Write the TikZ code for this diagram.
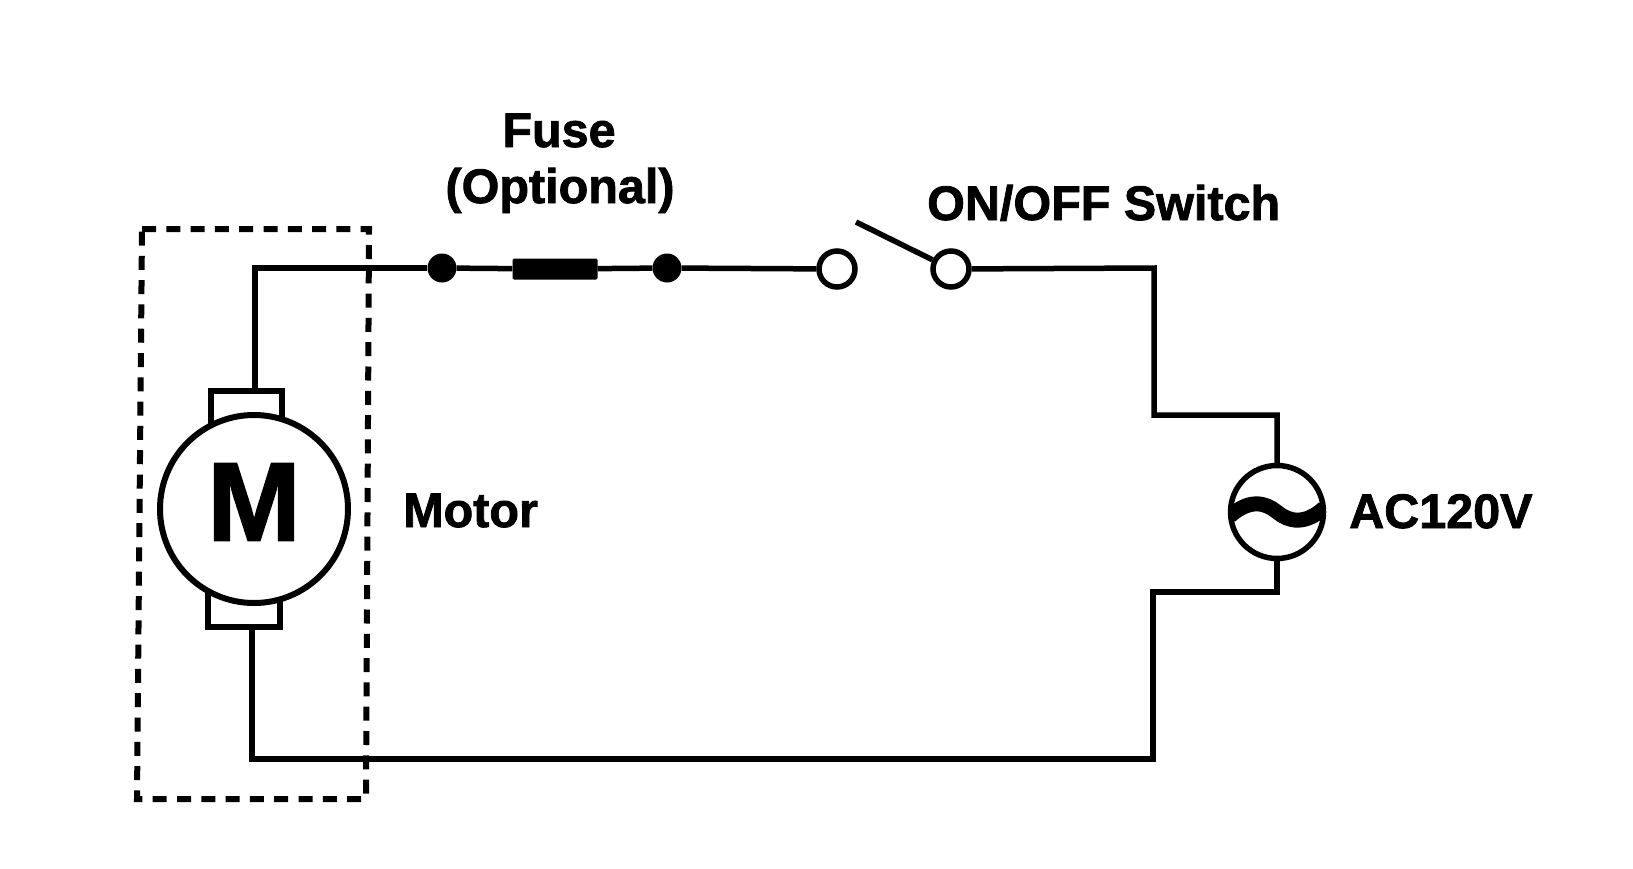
\documentclass[tikz,border=0pt]{standalone}
\usepackage{fontspec}
\newfontfamily\labfont{Liberation Sans Bold}[FakeBold=1.6]
\newfontfamily\bigfont{Liberation Sans Bold}[FakeBold=1.6]
\tikzset{
  x=1pt,y=-1pt,
  wire/.style={draw=black,line width=5.5pt,line join=miter},
  label text/.style={inner sep=0pt,font=\labfont\fontsize{48.5}{52}\selectfont,text=black},
  junction/.style={circle,fill=black,draw=none,minimum size=29pt,inner sep=0pt},
  terminal/.style={circle,fill=white,draw=black,line width=5.5pt,minimum size=36pt,inner sep=0pt},
  brushbox/.style={rectangle,fill=white,draw=black,line width=5.5pt,inner sep=0pt},
  machine/.style={circle,fill=white,draw=black,line width=6pt,inner sep=0pt},
  fusebody/.style={rectangle,fill=black,draw=none,rounded corners=1.5pt,minimum width=85pt,minimum height=21pt,inner sep=0pt},
  enclosure/.style={draw=black,line width=6pt,dash pattern=on 14pt off 10.3pt,line cap=butt},
}
\begin{document}
\begin{tikzpicture}
\useasboundingbox (0,0) rectangle (1633,868);
% enclosure
\draw[enclosure] (142,229) -- (369,229) -- (366,799) -- (137,799) -- cycle;
% corner coordinates
\coordinate (c1) at (255,268);
\coordinate (c2) at (1154,268);
\coordinate (c3) at (1154,415);
\coordinate (c4) at (1277,415);
\coordinate (c5) at (1277,592);
\coordinate (c6) at (1153,592);
\coordinate (c7) at (1153,759);
\coordinate (c8) at (252,759);
\coordinate (armtip) at (856,222);
% brushes
\node[brushbox,minimum width=71pt,minimum height=50pt] (btop) at (246.5,416) {};
\node[brushbox,minimum width=72pt,minimum height=50pt] (bbot) at (244,602) {};
% elements
\node[machine,minimum size=188pt] (motor) at (254,509) {};
\node[inner sep=0pt,font=\bigfont\fontsize{112}{112}\selectfont] (mletter) at (254,502) {M};
\node[junction] (ja) at (442,268) {};
\node[fusebody] (fuse) at (555,269) {};
\node[junction] (jb) at (667,268) {};
\node[terminal] (ta) at (837,269) {};
\node[terminal] (tb) at (951,269) {};
\node[machine,line width=5.5pt,minimum size=93pt] (src) at (1277,512) {};
% wires
\draw[wire] (btop.north -| c1) -- (c1) -- (ja);
\draw[wire] (ja) -- (fuse) -- (jb) -- (ta);
\draw[wire] (tb) -- (c2) -- (c3) -- (c4) -- (src);
\draw[wire] (src) -- (c5) -- (c6) -- (c7) -- (c8) -- (bbot.south -| c8);
\draw[wire] (armtip) -- (tb);
% tilde
\begin{scope}[shift={(src.center)}]
\clip (0,0) circle (46.5pt);
\draw[line width=15pt,line cap=butt] (-47,4) .. controls (-28,-13) and (-12,-10) .. (0,0) .. controls (12,10) and (28,13) .. (47,-4);
\end{scope}
% labels
\node[label text,anchor=base] (l1) at (559,147) {Fuse};
\node[label text,anchor=base] (l2) at (560,203) {(Optional)};
\node[label text,anchor=base west] (l3) at (927,220) {ON/OFF Switch};
\node[label text,anchor=base west] (l4) at (403,527) {Motor};
\node[label text,anchor=base west] (l5) at (1349,528) {AC120V};
\end{tikzpicture}
\end{document}
